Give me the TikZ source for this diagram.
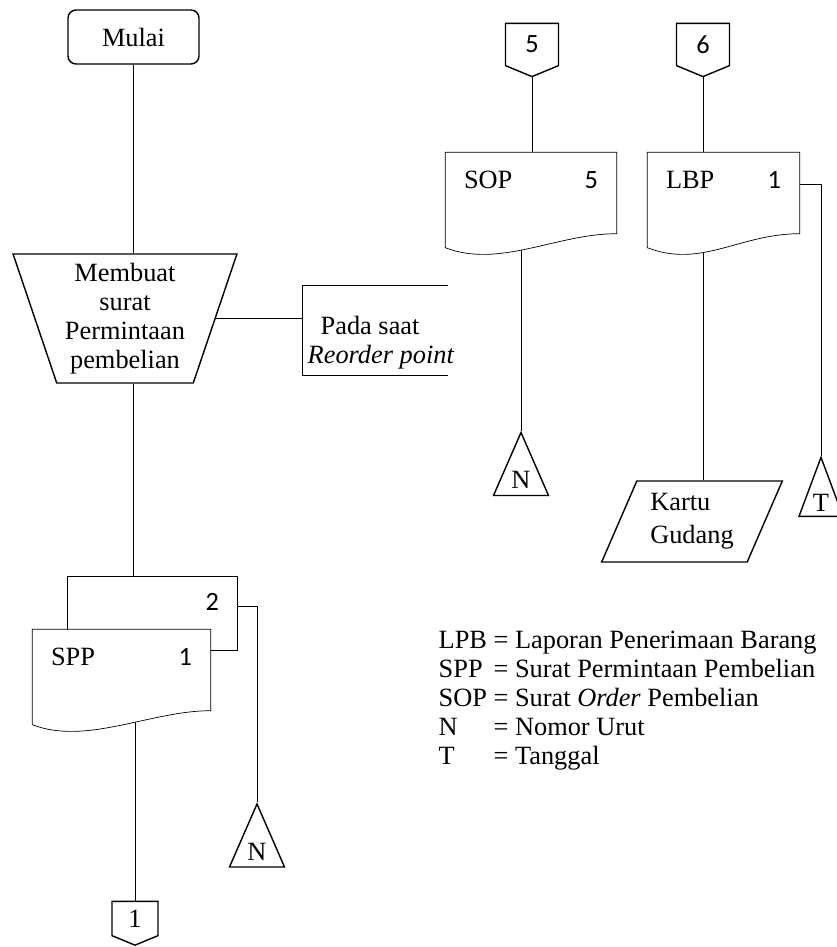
\documentclass[tikz,border=0pt]{standalone}
\usepackage{fontspec}
\setmainfont{Liberation Serif}
\newfontfamily\angka{Carlito}
\usetikzlibrary{shapes.geometric, shapes.symbols, positioning, calc, backgrounds}

% garis dokumen dengan bawah bergelombang
\newcommand{\dokumen}[1]{%
  \draw[fill=white] ($(#1.south west)+(0,14)$) -- (#1.north west) -- (#1.north east)
    -- (#1.south east) .. controls +(-60,0) and +(54,21) .. ($(#1.south west)+(0,14)$);}

\begin{document}
\begin{tikzpicture}[
    x=0.02cm, y=-0.02cm, line width=0.8pt,
    font=\fontsize{15}{16.6}\selectfont,
    terminal/.style={rectangle, draw, rounded corners=0.16cm, minimum width=2.62cm, minimum height=1.08cm},
    manual/.style={trapezium, draw, shape border rotate=180, trapezium stretches=true, trapezium left angle=71, trapezium right angle=71, minimum width=4.48cm, minimum height=2.58cm, align=center, inner sep=0pt},
    dokumenbox/.style={rectangle, inner xsep=0.36cm, inner ysep=0pt, text height=0.7cm, text depth=0.9cm},
    offpage/.style={signal, draw, fill=white, signal to=south, signal from=nowhere, signal pointer angle=135, minimum width=1.06cm, minimum height=0.9cm, inner sep=0pt},
    arsip/.style={isosceles triangle, draw, fill=white, shape border rotate=90, isosceles triangle stretches, minimum width=1.1cm, minimum height=1.26cm, inner sep=0pt},
    catatan/.style={trapezium, draw, trapezium left angle=66, trapezium right angle=114, trapezium stretches=true, minimum width=3.64cm, minimum height=1.62cm, align=left, font=\fontsize{15}{19}\selectfont}
]
\useasboundingbox (0,0) rectangle (836,947);

% kolom kiri
\node[terminal] (mulai) at (133.5,37) {Mulai};
\node[manual] (proses) at (125,318.5) {Membuat\\surat\\Permintaan\\pembelian};
\node[minimum width=2.88cm, minimum height=1.78cm] (ket) at (375,330.5) {};
\node[anchor=west, align=left, inner sep=0pt] (kettxt) at (307,343) {\hspace*{0.26cm}Pada saat\\\textit{Reorder point}};
\node[dokumenbox, text height=0.66cm, text depth=0.8cm] (spp2) at (152.5,613.5) {\makebox[2.66cm]{\hfill{\angka 2}}};
\node[dokumenbox] (spp) at (121.5,670) {\makebox[2.82cm]{SPP\hfill{\angka 1}}};
\node[arsip] (nspp) at (257,851.5) {N};
\node[offpage, minimum width=0.92cm, minimum height=0.74cm] (off1) at (135,918.5) {1};

% kolom kanan
\node[offpage, font=\angka\fontsize{15}{16.6}\selectfont] (off5) at (532,44.5) {5};
\node[offpage, font=\angka\fontsize{15}{16.6}\selectfont] (off6) at (703,44.5) {6};
\node[dokumenbox] (sop) at (531,193) {\makebox[2.68cm]{SOP\hfill{\angka 5}}};
\node[dokumenbox] (lbp) at (723.5,193) {\makebox[2.30cm]{LBP\hfill{\angka 1}}};
\node[arsip] (nsop) at (521,480) {N};
\node[catatan] (kartu) at (692,521.5) {Kartu\\Gudang};
\node[arsip, minimum width=0.88cm, minimum height=1.18cm] (ttgl) at (821,502.5) {T};

% keterangan singkatan
\node[anchor=north west, inner sep=0pt] (legenda) at (438,627) {%
  \begin{tabular}{@{}l@{ }l@{}}
  LPB & = Laporan Penerimaan Barang\\
  SPP & = Surat Permintaan Pembelian\\
  SOP & = Surat \textit{Order} Pembelian\\
  N   & = Nomor Urut\\
  T   & = Tanggal
  \end{tabular}};

\draw (ket.north east) -- (ket.north west) -- (ket.south west) -- (ket.south east);

\begin{scope}[on background layer]
\draw (mulai.south) -- (mulai.south |- proses.north);
\draw (proses.east) -- (proses.east -| ket.west);
\draw (mulai.south |- proses.south) -- (mulai.south |- spp2.north);
\draw (spp2.mid east) -| (nspp.apex);
\draw (spp.south -| off1.north) -- (off1.north);
\draw (off5.south) -- (off5.south |- sop.north);
\draw (sop.south -| nsop.apex) -- (nsop.apex);
\draw (off6.south) -- (off6.south |- lbp.north);
\draw (lbp.south -| off6.south) -- (off6.south |- kartu.north);
\draw (lbp.mid east) -| (ttgl.apex);
\draw[fill=white] (spp2.south west) rectangle (spp2.north east);
\dokumen{spp}
\dokumen{sop}
\dokumen{lbp}
\end{scope}
\end{tikzpicture}
\end{document}
